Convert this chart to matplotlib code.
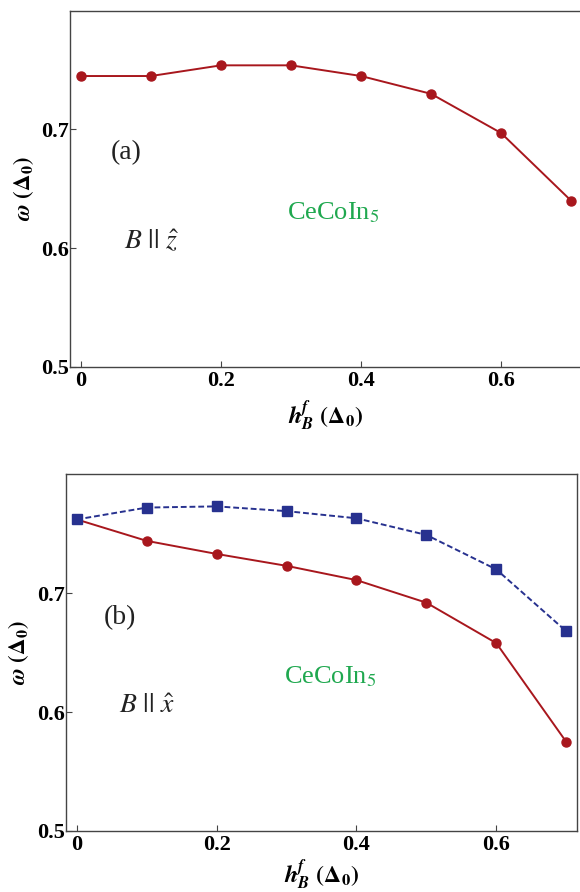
import matplotlib
matplotlib.use("Agg")
import matplotlib.pyplot as plt

plt.rcParams["font.family"] = ["Liberation Serif", "DejaVu Serif"]
plt.rcParams["mathtext.fontset"] = "stix"

# data
h = [0.0, 0.1, 0.2, 0.3, 0.4, 0.5, 0.6, 0.7]
omega_a = [0.745, 0.745, 0.754, 0.754, 0.745, 0.730, 0.697, 0.640]
omega_b_red = [0.762, 0.744, 0.733, 0.723, 0.711, 0.692, 0.658, 0.575]
omega_b_blue = [0.762, 0.772, 0.773, 0.769, 0.763, 0.749, 0.720, 0.668]

x_ticks = [0, 0.2, 0.4, 0.6]
x_tick_labels = ["0", "0.2", "0.4", "0.6"]
y_ticks = [0.5, 0.6, 0.7]
y_tick_labels = ["0.5", "0.6", "0.7"]

red = "#a8171d"
blue = "#27318f"
green = "#1fa84f"

fig = plt.figure(figsize=(5.8, 8.92), dpi=100)
ax_a = fig.add_axes([0.1214, 0.5886, 0.8814, 0.3994])
ax_b = fig.add_axes([0.1143, 0.0684, 0.88, 0.3999])


def style(ax, xpad):
    ax.set_xlim(-0.015, 0.715)
    ax.set_ylim(0.5, 0.8)
    ax.set_xticks(x_ticks)
    ax.set_xticklabels(x_tick_labels, fontweight="bold", fontsize=16)
    ax.set_yticks(y_ticks)
    ax.set_yticklabels(y_tick_labels, fontweight="bold", fontsize=16)
    ax.tick_params(direction="in", length=4, width=0.8, color="#444444")
    ax.tick_params(axis="x", pad=3)
    ax.tick_params(axis="y", pad=1)
    for s in ax.spines.values():
        s.set_color("#444444")
        s.set_linewidth(1.0)
    ax.set_ylabel(r"$\boldsymbol{\omega}$ $\mathbf{(\Delta_0)}$", fontsize=16.5, labelpad=4)
    ax.set_xlabel(r"$\mathbfit{h}_{\mathbfit{B}}^{\mathbfit{f}}$ $\mathbf{(\Delta_0)}$",
                  fontsize=17, labelpad=xpad)


# panel (a)
ax_a.plot(h, omega_a, color=red, lw=1.4, marker="o", ms=6.5)
style(ax_a, 5)
ax_a.text(0.064, 0.6806, "(a)", fontsize=20, ha="center", va="center", color="#222222")
ax_a.text(0.36, 0.63, r"CeCoIn$_5$", fontsize=19, ha="center", va="center", color=green)
ax_a.text(0.101, 0.6055, r"$B\ ||\ \hat{z}$", fontsize=20, ha="center", va="center", color="#222222")

# panel (b)
ax_b.plot(h, omega_b_red, color=red, lw=1.4, marker="o", ms=6.5, zorder=2)
ax_b.plot(h, omega_b_blue, color=blue, lw=1.4, ls=(0, (3, 1.5)), marker="s", ms=6.5, zorder=3)
style(ax_b, 2)
ax_b.text(0.062, 0.6795, "(b)", fontsize=20, ha="center", va="center", color="#222222")
ax_b.text(0.362, 0.63, r"CeCoIn$_5$", fontsize=19, ha="center", va="center", color=green)
ax_b.text(0.10, 0.6048, r"$B\ ||\ \hat{x}$", fontsize=20, ha="center", va="center", color="#222222")

fig.savefig("out.png", dpi=100)
